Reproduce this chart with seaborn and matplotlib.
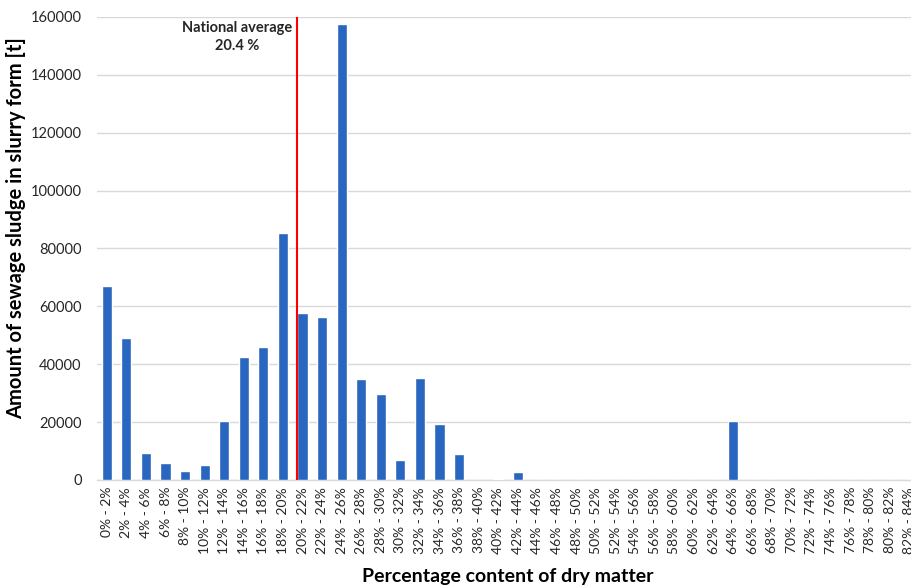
import numpy as np
import matplotlib
matplotlib.use("Agg")
import matplotlib.pyplot as plt
import seaborn as sns

# ------------------------
# Data
# ------------------------
bins = [f"{lo}% - {lo + 2}%" for lo in range(0, 84, 2)]
sludge_t = [67000, 49000, 9200, 5900, 3100, 5200, 20500, 42500, 45900, 85200,
            57700, 56200, 157400, 35000, 29700, 7000, 35400, 19200, 9000, 0,
            350, 2650, 0, 0, 0, 0, 0, 0, 0, 0,
            0, 0, 20300, 0, 0, 0, 0, 0, 0, 0,
            0, 0]
national_avg = 20.4  # percent dry matter

# ------------------------
# Style
# ------------------------
sns.set_style("white")
plt.rcParams["font.family"] = ["Lato", "DejaVu Sans"]

fig = plt.figure(figsize=(9.11, 5.87), dpi=100)
# axes runs a bit past the right edge, as in the cropped original
ax = fig.add_axes([0.1065, 0.1823, 0.9023, 0.7888])

sns.barplot(x=bins, y=sludge_t, order=bins, color="#2966BF", width=0.52,
            saturation=1, ax=ax, zorder=3)

ax.set_ylim(0, 160000)
ax.set_xlim(-0.5, len(bins) - 0.5)
ax.set_yticks(np.arange(0, 160001, 20000))
ax.yaxis.grid(True, color="#d9d9d9", linewidth=1, zorder=0)
ax.set_axisbelow(True)

for s in ["left", "right", "top"]:
    ax.spines[s].set_visible(False)
ax.spines["bottom"].set_color("#d9d9d9")
ax.spines["bottom"].set_linewidth(1)

ax.tick_params(axis="y", length=0, labelsize=10.5, pad=11, labelcolor="#262626")
ax.tick_params(axis="x", length=0, labelsize=10, rotation=90, pad=5, labelcolor="#262626")

ax.set_ylabel("Amount of sewage sludge in slurry form [t]", fontsize=14.5,
              fontweight="bold", color="black")
ax.yaxis.set_label_coords(-0.086, 0.545)
ax.set_xlabel("Percentage content of dry matter", fontsize=14,
              fontweight="bold", color="black")
ax.xaxis.set_label_coords(0.5, -0.19)

# national average line (category i spans i*2 .. i*2+2 percent)
avg_x = national_avg / 2 - 0.5
ax.plot([avg_x, avg_x], [0, 160000], color="red", linewidth=1.5, zorder=4)
ax.text(avg_x - 0.2, 158500, f"National average\n{national_avg} %", ha="right",
        va="top", fontsize=10.5, fontweight="bold", multialignment="center",
        linespacing=1.35)

plt.savefig("out.png", dpi=100)
